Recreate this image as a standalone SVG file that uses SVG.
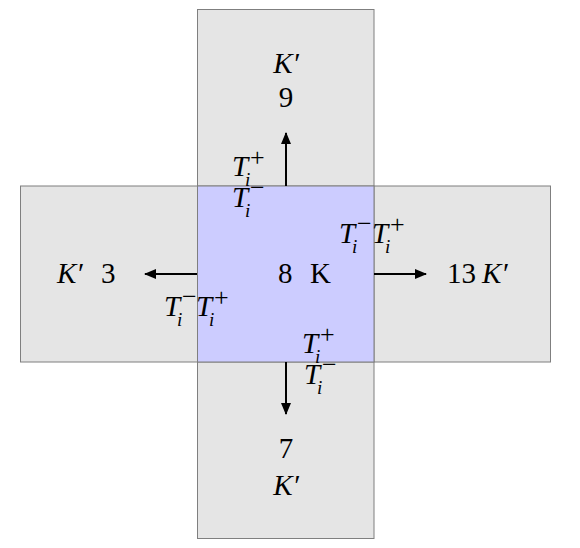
<svg xmlns="http://www.w3.org/2000/svg" width="580" height="548" viewBox="0 0 580 548">
<defs>
<style>
.cell{fill:#e5e5e5;stroke:#7f7f7f;stroke-width:1}
.main{fill:#ccccff;stroke:#7f7f7f;stroke-width:1}
text{font-family:"Liberation Serif","Times New Roman",serif;fill:#000}
.t{font-size:29px}
.it{font-style:italic}
.sb{font-size:19px;font-style:italic}
.sp{font-size:26px}
.arr{stroke:#000;stroke-width:2;fill:none}
</style>
<marker id="ah" viewBox="0 0 12 10" refX="11" refY="5" markerWidth="12" markerHeight="10" markerUnits="userSpaceOnUse" orient="auto">
<path d="M0,0 L12,5 L0,10 Z" fill="#000"/>
</marker>
<g id="tp"><text class="t it" x="0" y="0">T</text><text class="sb" x="13" y="10">i</text><text class="sp" x="18" y="-10">+</text></g>
<g id="tm"><text class="t it" x="0" y="0">T</text><text class="sb" x="13" y="10">i</text><text class="sp" x="18" y="-11">−</text></g>
</defs>
<g id="node-top">
<rect class="cell" x="197.5" y="9.5" width="176.5" height="176.5"/>
<text class="t it" x="286" y="73" text-anchor="middle">K′</text>
<text class="t" x="286" y="107" text-anchor="middle">9</text>
</g>
<g id="node-left">
<rect class="cell" x="20.5" y="186" width="177" height="176"/>
<text class="t it" x="57" y="283">K′</text>
<text class="t" x="101" y="283">3</text>
</g>
<g id="node-right">
<rect class="cell" x="374" y="186" width="176.5" height="176"/>
<text class="t" x="447" y="283">13</text>
<text class="t it" x="482" y="283">K′</text>
</g>
<g id="node-bottom">
<rect class="cell" x="197.5" y="362" width="176.5" height="176.5"/>
<text class="t" x="286" y="458" text-anchor="middle">7</text>
<text class="t it" x="286" y="495" text-anchor="middle">K′</text>
</g>
<g id="node-center">
<rect class="main" x="197.5" y="186" width="176.5" height="176"/>
<text class="t" x="278" y="283">8</text>
<text class="t" x="310" y="283">K</text>
</g>
<g id="connectors">
<line class="arr" x1="286" y1="186" x2="286" y2="133" marker-end="url(#ah)"/>
<line class="arr" x1="197" y1="274" x2="145" y2="274" marker-end="url(#ah)"/>
<line class="arr" x1="374" y1="274" x2="426" y2="274" marker-end="url(#ah)"/>
<line class="arr" x1="286" y1="362" x2="286" y2="414" marker-end="url(#ah)"/>
</g>
<g id="labels">
<use href="#tp" x="232" y="176"/>
<use href="#tm" x="232" y="207"/>
<use href="#tm" x="164" y="316"/>
<use href="#tp" x="196" y="316"/>
<use href="#tm" x="339" y="243"/>
<use href="#tp" x="372" y="243"/>
<use href="#tp" x="302" y="353"/>
<use href="#tm" x="304" y="384"/>
</g>
</svg>
